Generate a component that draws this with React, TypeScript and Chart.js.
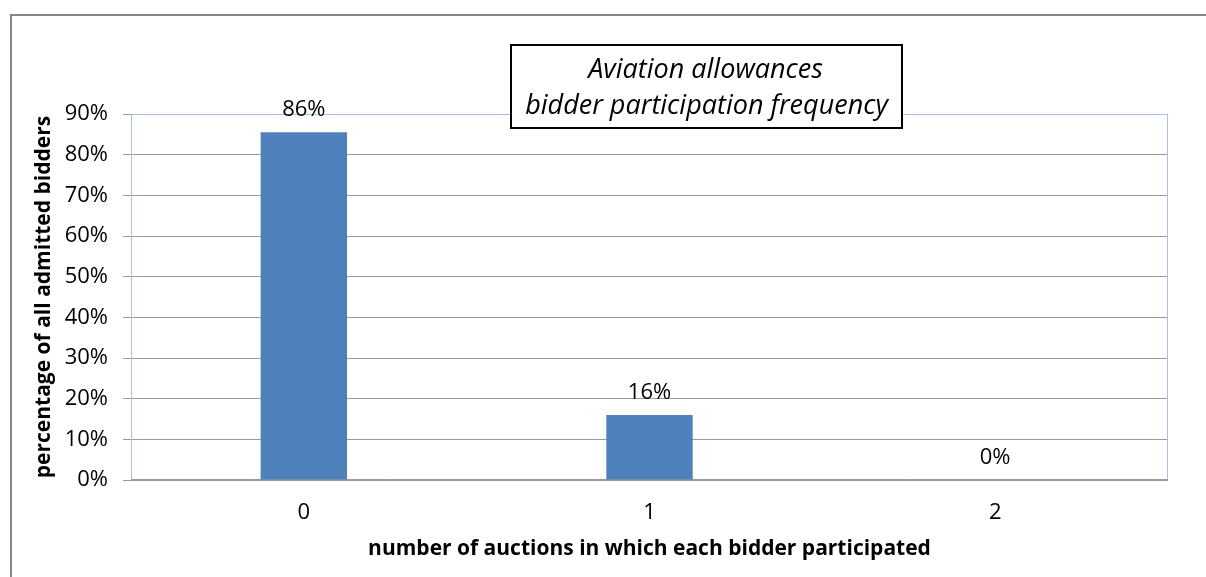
import React, { useEffect, useRef } from "react";
import { Chart, registerables } from "chart.js";

Chart.register(...registerables);

const categories: string[] = ["0", "1", "2"];
const values: number[] = [0.855, 0.16, 0];
const valueLabels: string[] = ["86%", "16%", "0%"];
const yTickValues: number[] = [0, 0.1, 0.2, 0.3, 0.4, 0.5, 0.6, 0.7, 0.8, 0.9];
const yTickLabels: string[] = ["0%", "10%", "20%", "30%", "40%", "50%", "60%", "70%", "80%", "90%"];
const titleLines: string[] = ["Aviation allowances", "bidder participation frequency"];
const xTitle = "number of auctions in which each bidder participated";
const yTitle = "percentage of all admitted bidders";

const FONT = "'Open Sans', 'Noto Sans', sans-serif";

export default function App() {
  const ref = useRef<HTMLCanvasElement | null>(null);

  useEffect(() => {
    if (!ref.current) return;

    const framePlugin = {
      id: "frame",
      beforeDraw(chart: any) {
        const ctx = chart.ctx;
        ctx.save();
        ctx.fillStyle = "#ffffff";
        ctx.fillRect(0, 0, chart.width, chart.height);
        ctx.strokeStyle = "#878787";
        ctx.lineWidth = 2;
        ctx.strokeRect(11, 15, chart.width + 40, chart.height + 40);
        ctx.restore();
      },
      beforeDatasetsDraw(chart: any) {
        const { left, right, top, bottom } = chart.chartArea;
        const ctx = chart.ctx;
        ctx.save();
        ctx.lineWidth = 1;
        ctx.strokeStyle = "#a8c1e6";
        ctx.beginPath();
        ctx.moveTo(left + 0.5, bottom);
        ctx.lineTo(left + 0.5, top + 0.5);
        ctx.lineTo(right - 0.5, top + 0.5);
        ctx.lineTo(right - 0.5, bottom);
        ctx.stroke();
        ctx.strokeStyle = "#9a9a9a";
        ctx.beginPath();
        ctx.moveTo(left, bottom - 0.5);
        ctx.lineTo(right, bottom - 0.5);
        ctx.stroke();
        ctx.restore();
      },
      afterDatasetsDraw(chart: any) {
        const ctx = chart.ctx;
        const meta = chart.getDatasetMeta(0);
        ctx.save();
        ctx.font = `22px ${FONT}`;
        ctx.fillStyle = "#000000";
        ctx.textAlign = "center";
        ctx.textBaseline = "alphabetic";
        meta.data.forEach((bar: any, i: number) => {
          ctx.fillText(valueLabels[i], bar.x, bar.y - 16);
        });
        ctx.restore();
      },
      afterDraw(chart: any) {
        const ctx = chart.ctx;
        ctx.save();
        const bx = 511, by = 45, bw = 391, bh = 83;
        ctx.fillStyle = "#ffffff";
        ctx.fillRect(bx, by, bw, bh);
        ctx.strokeStyle = "#000000";
        ctx.lineWidth = 2;
        ctx.strokeRect(bx, by, bw, bh);
        ctx.fillStyle = "#000000";
        ctx.font = `italic 27px ${FONT}`;
        ctx.textAlign = "center";
        ctx.textBaseline = "middle";
        ctx.fillText(titleLines[0], bx + bw / 2 - 1, 70);
        ctx.fillText(titleLines[1], bx + bw / 2, 106);
        ctx.restore();
      },
    };

    const chart = new Chart(ref.current, {
      type: "bar",
      data: {
        labels: categories,
        datasets: [
          {
            data: values,
            backgroundColor: "#4f81bd",
            borderWidth: 0,
            barPercentage: 0.25,
            categoryPercentage: 1,
          },
        ],
      },
      options: {
        animation: false,
        responsive: false,
        devicePixelRatio: 1,
        layout: { padding: { top: 114, right: 38, left: 0, bottom: 0 } },
        plugins: {
          legend: { display: false },
          tooltip: { enabled: false },
          title: { display: false },
        },
        scales: {
          x: {
            grid: { display: false, drawTicks: false },
            border: { display: false },
            ticks: {
              color: "#000000",
              font: { family: FONT, size: 22 },
              padding: 20,
            },
            title: {
              display: true,
              text: xTitle,
              color: "#000000",
              font: { family: FONT, size: 21, weight: "bold" },
              padding: { top: 0, bottom: 15 },
            },
            afterFit(scale: any) {
              scale.height = 97;
            },
          },
          y: {
            min: 0,
            max: 0.9,
            afterBuildTicks(scale: any) {
              scale.ticks = yTickValues.map((v) => ({ value: v }));
            },
            ticks: {
              color: "#000000",
              font: { family: FONT, size: 22 },
              padding: 15,
              callback: (_v: any, i: number) => yTickLabels[i],
            },
            grid: { color: "#9a9a9a", tickLength: 8 },
            border: { color: "#9a9a9a" },
            title: {
              display: true,
              text: yTitle,
              color: "#000000",
              font: { family: FONT, size: 21, weight: "bold" },
              padding: { top: 31, bottom: 0 },
            },
            afterFit(scale: any) {
              scale.width = 131;
            },
          },
        },
      },
      plugins: [framePlugin],
    } as any);

    return () => chart.destroy();
  }, []);

  return (
    <div style={{ position: "fixed", left: 0, top: 0, width: 1206, height: 577 }}>
      <canvas ref={ref} width={1206} height={577} style={{ display: "block" }} />
    </div>
  );
}
